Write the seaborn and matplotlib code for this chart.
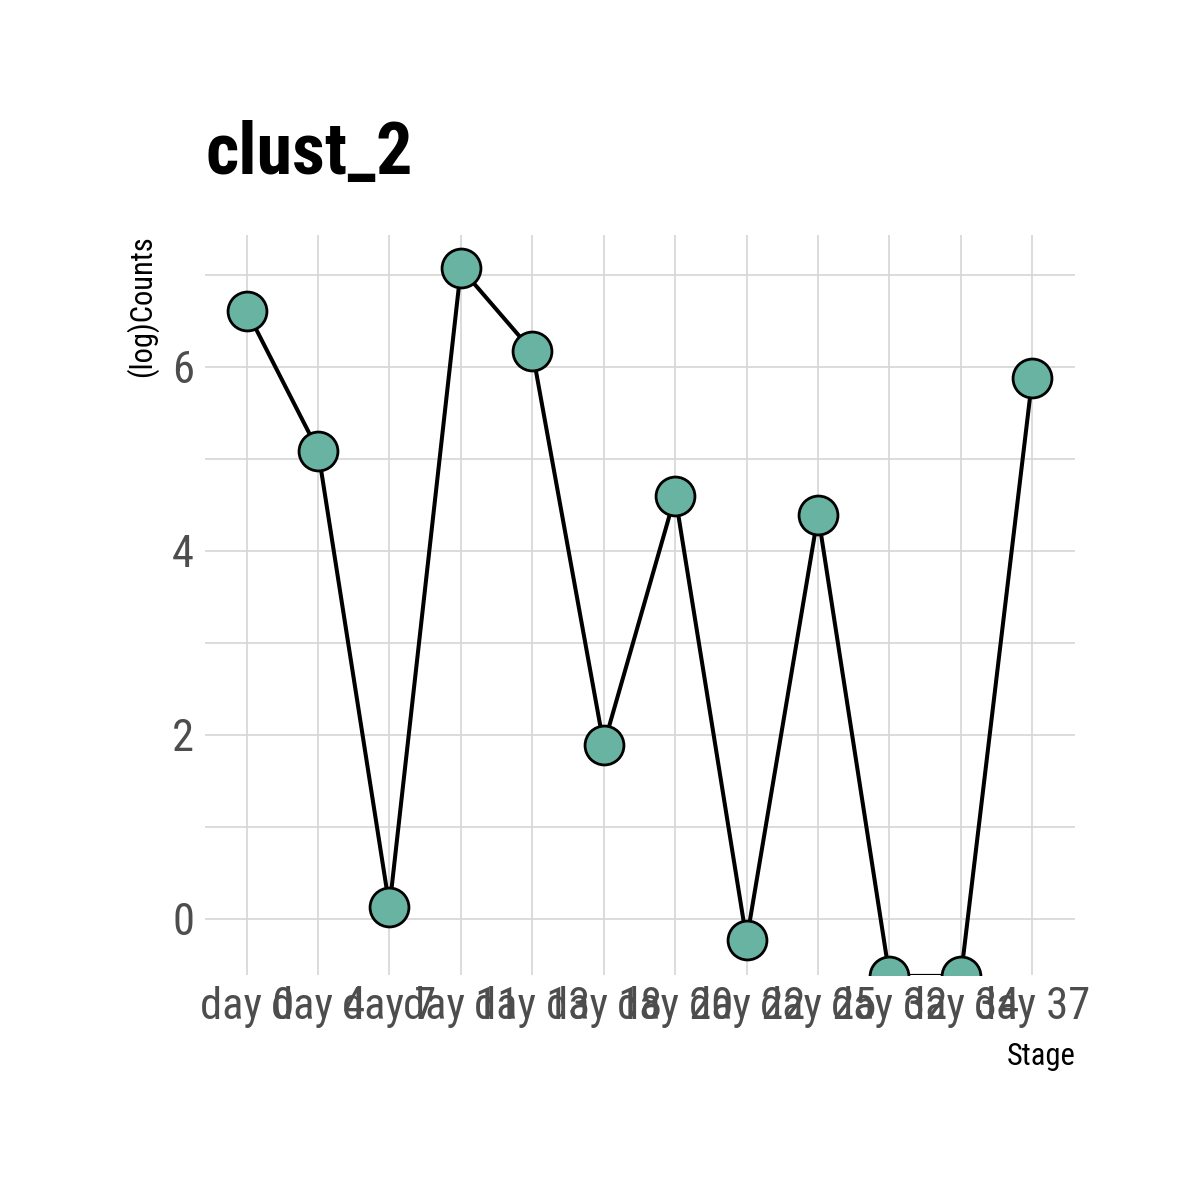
import pandas as pd
import seaborn as sns
import matplotlib.pyplot as plt
from matplotlib.ticker import MultipleLocator

stages = ['day 0', 'day 4', 'day 7', 'day 11', 'day 13', 'day 18',
          'day 20', 'day 22', 'day 25', 'day 32', 'day 34', 'day 37']
counts = [6.61, 5.09, 0.13, 7.07, 6.17, 1.89,
          4.60, -0.23, 4.39, -0.62, -0.62, 5.88]

df = pd.DataFrame({'Stage': stages, 'Counts': counts})

sns.set_theme(style='whitegrid')
narrow = ['Liberation Sans Narrow', 'Arial Narrow', 'Roboto Condensed',
          'Archivo Narrow', 'PT Sans Narrow', 'Liberation Sans', 'DejaVu Sans']
plt.rcParams['font.family'] = narrow

fig = plt.figure(figsize=(12, 12), dpi=100)
ax = fig.add_axes([0.171, 0.1875, 0.725, 0.6165])

sns.lineplot(data=df, x='Stage', y='Counts', sort=False, color='black',
             linewidth=2.9, marker='o', markersize=28,
             markerfacecolor='#69b3a2', markeredgecolor='black',
             markeredgewidth=2.0, ax=ax)

ax.set_xlim(-0.58, 11.6)
ax.set_ylim(-0.61, 7.43)
ax.yaxis.set_major_locator(MultipleLocator(2))
ax.yaxis.set_minor_locator(MultipleLocator(1))
ax.grid(which='major', color='#d6d6d6', linewidth=1.2)
ax.grid(which='minor', axis='y', color='#d6d6d6', linewidth=1.2)
ax.set_axisbelow(True)
for s in ax.spines.values():
    s.set_visible(False)

ax.tick_params(axis='both', which='both', length=0, labelsize=32,
               labelcolor='#4d4d4d', pad=8)
ax.set_xlabel('Stage', fontsize=22, loc='right', labelpad=10, color='black')
ax.set_ylabel('(log)Counts', fontsize=22, loc='top', labelpad=10, color='black')

fig.text(0.171, 0.871, 'clust_2', fontsize=52, fontweight='bold', color='black',
         ha='left', va='center')

fig.savefig('out.png', dpi=100)
